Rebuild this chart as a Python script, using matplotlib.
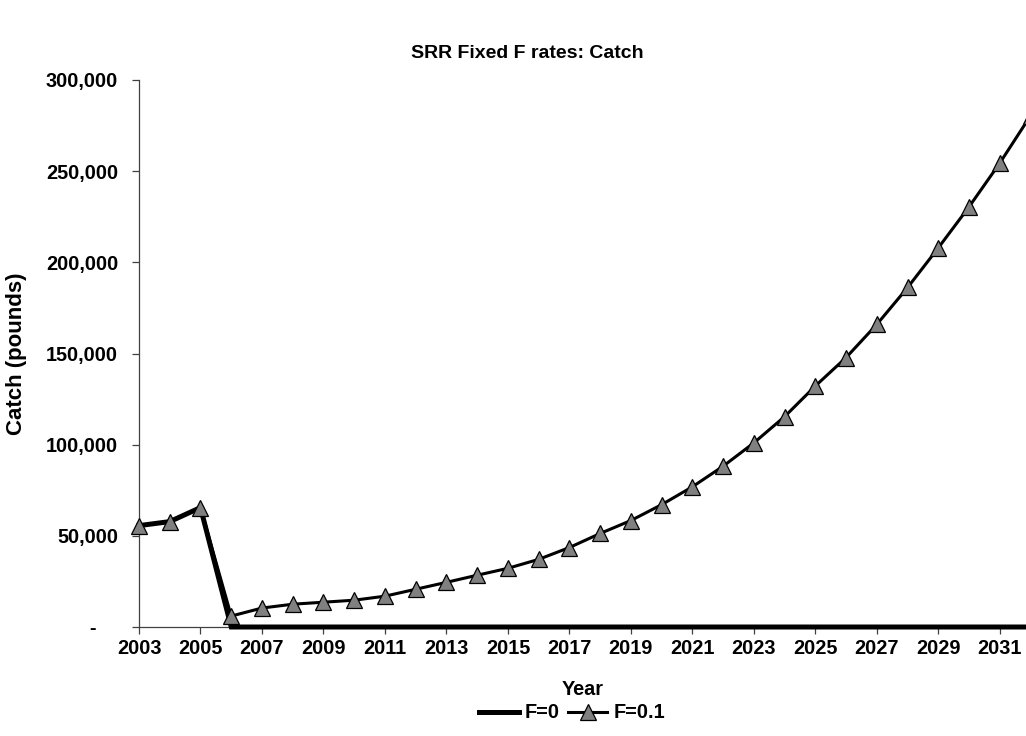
import matplotlib as mpl
mpl.use('Agg')
import matplotlib.pyplot as plt
from matplotlib.ticker import FuncFormatter, MultipleLocator

FS = 14.3
mpl.rcParams.update({
    'font.family': ['Liberation Sans', 'DejaVu Sans'],
    'font.weight': 'bold', 'font.size': FS,
    'axes.labelweight': 'bold',
})

years = list(range(2003, 2033))
year_ticks = list(range(2003, 2032, 2))
catch_f0 = [55600, 57800, 65500] + [0] * 27
catch_f01 = [55600, 57800, 65500, 6000, 10400, 12500, 13600, 14700, 16900, 20700,
             24500, 28400, 32200, 37100, 43600, 51300, 58400, 67100, 76900, 88200,
             101000, 115400, 132200, 147800, 166000, 186200, 208000, 230500, 254500, 280500]

fig = plt.figure(figsize=(10.26, 7.36), dpi=100)
ax = fig.add_axes([139 / 1026, 1 - 627 / 736, 1 - 139 / 1026, (627 - 80) / 736])

ax.plot(years, catch_f0, color='black', lw=3.6, label='F=0', clip_on=False, zorder=3,
        solid_joinstyle='miter')
ax.plot(years, catch_f01, color='black', lw=2.2, marker='^', ms=11.5,
        mfc='#808080', mec='black', mew=0.9, label='F=0.1', clip_on=False, zorder=4)

ax.set_xlim(2003, 2031.85)
ax.set_ylim(0, 300000)
ax.set_xticks(year_ticks)
ax.yaxis.set_major_locator(MultipleLocator(50000))
# accounting-style zero shown as a dash
ax.yaxis.set_major_formatter(FuncFormatter(lambda v, p: '-    ' if v == 0 else f'{int(v):,}'))

for s in ['top', 'right']:
    ax.spines[s].set_visible(False)
for s in ['left', 'bottom']:
    ax.spines[s].set_color('#404040')
    ax.spines[s].set_linewidth(0.9)
ax.tick_params(axis='both', direction='out', length=5, width=0.9, color='#404040',
               labelsize=FS)
ax.tick_params(axis='y', pad=10)
ax.tick_params(axis='x', pad=3.5)

ax.set_xlabel('Year', fontsize=FS, labelpad=16)
ax.set_ylabel('Catch (pounds)', fontsize=16)
ax.yaxis.set_label_coords(-112 / 887, 0.5)

fig.text(527 / 1026, 1 - 53 / 736, 'SRR Fixed F rates: Catch', ha='center', va='center',
         fontsize=14, fontweight='bold')

fig.legend(loc='center', bbox_to_anchor=(572 / 1026, 1 - 713 / 736), ncol=2,
           frameon=False, fontsize=FS, handlelength=2.0, handletextpad=0.3,
           columnspacing=0.4)

fig.savefig('out.png', dpi=100)
